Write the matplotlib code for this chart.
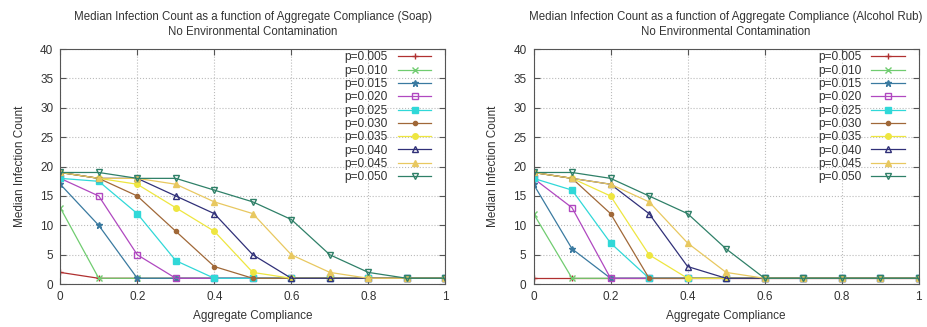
import numpy as np
import matplotlib.pyplot as plt

plt.rcParams['font.family'] = ['Liberation Sans', 'DejaVu Sans']

compliance = [0.0, 0.1, 0.2, 0.3, 0.4, 0.5, 0.6, 0.7, 0.8, 0.9, 1.0]
labels = ['p=0.005', 'p=0.010', 'p=0.015', 'p=0.020', 'p=0.025',
          'p=0.030', 'p=0.035', 'p=0.040', 'p=0.045', 'p=0.050']

soap = [
    [2, 1, 1, 1, 1, 1, 1, 1, 1, 1, 1],
    [13, 1, 1, 1, 1, 1, 1, 1, 1, 1, 1],
    [17, 10, 1, 1, 1, 1, 1, 1, 1, 1, 1],
    [18, 15, 5, 1, 1, 1, 1, 1, 1, 1, 1],
    [18, 17.5, 12, 4, 1, 1, 1, 1, 1, 1, 1],
    [19, 18, 15, 9, 3, 1, 1, 1, 1, 1, 1],
    [19, 18, 17, 13, 9, 2, 1, 1, 1, 1, 1],
    [19, 18, 18, 15, 12, 5, 1, 1, 1, 1, 1],
    [19, 18, 18, 17, 14, 12, 5, 2, 1, 1, 1],
    [19, 19, 18, 18, 16, 14, 11, 5, 2, 1, 1],
]

alcohol = [
    [1, 1, 1, 1, 1, 1, 1, 1, 1, 1, 1],
    [12, 1, 1, 1, 1, 1, 1, 1, 1, 1, 1],
    [17, 6, 1, 1, 1, 1, 1, 1, 1, 1, 1],
    [18, 13, 1, 1, 1, 1, 1, 1, 1, 1, 1],
    [18, 16, 7, 1, 1, 1, 1, 1, 1, 1, 1],
    [19, 18, 12, 1, 1, 1, 1, 1, 1, 1, 1],
    [19, 18, 15, 5, 1, 1, 1, 1, 1, 1, 1],
    [19, 18, 17, 12, 3, 1, 1, 1, 1, 1, 1],
    [19, 18, 17, 14, 7, 2, 1, 1, 1, 1, 1],
    [19, 19, 18, 15, 12, 6, 1, 1, 1, 1, 1],
]

colors = ['#b03030', '#70cc70', '#3a7aa0', '#b048c0', '#30d8d8',
          '#a06838', '#eee640', '#303078', '#e8c860', '#2f8068']
markers = ['+', 'x', '*', 's', 's', 'o', 'o', '^', '^', 'v']
filled = [True, True, True, False, True, True, True, False, True, False]
msizes = [5, 4, 5, 4, 4, 3, 4, 4, 4, 4]

fig, axes = plt.subplots(1, 2, figsize=(9.27, 3.27), dpi=100)
fig.subplots_adjust(left=0.065, right=0.991, bottom=0.131, top=0.85, wspace=0.229)

titles = ['Median Infection Count as a function of Aggregate Compliance (Soap)\nNo Environmental Contamination',
          'Median Infection Count as a function of Aggregate Compliance (Alcohol Rub)\nNo Environmental Contamination']

for ax, data, title in zip(axes, [soap, alcohol], titles):
    for i, ys in enumerate(data):
        ax.plot(compliance, ys, color=colors[i], marker=markers[i], ms=msizes[i],
                mfc=colors[i] if filled[i] else 'none', mec=colors[i],
                lw=0.9, label=labels[i])
    ax.set_xlim(0, 1)
    ax.set_ylim(0, 40)
    ax.set_xticks([0, 0.2, 0.4, 0.6, 0.8, 1])
    ax.set_xticklabels(['0', '0.2', '0.4', '0.6', '0.8', '1'])
    ax.set_yticks(range(0, 41, 5))
    ax.grid(True, color='#bbbbbb', linestyle=':', linewidth=0.8)
    ax.tick_params(direction='in', top=True, right=True, labelsize=8.5,
                   color='#555555', labelcolor='#333333', length=4, pad=5)
    for s in ax.spines.values():
        s.set_color('#555555')
    ax.set_xlabel('Aggregate Compliance', fontsize=8.5, color='#333333', labelpad=5)
    ax.set_ylabel('Median Infection Count', fontsize=8.5, color='#333333', labelpad=10)
    ax.set_title(title, fontsize=8.3, color='#333333', pad=10, linespacing=1.35)
    ax.legend(loc='upper right', bbox_to_anchor=(0.97, 1.0), frameon=False,
              fontsize=8.6, markerfirst=False, handlelength=2.8,
              labelspacing=0.11, borderaxespad=0, borderpad=0.2,
              handletextpad=0.85, labelcolor='#333333')

fig.savefig('out.png')
